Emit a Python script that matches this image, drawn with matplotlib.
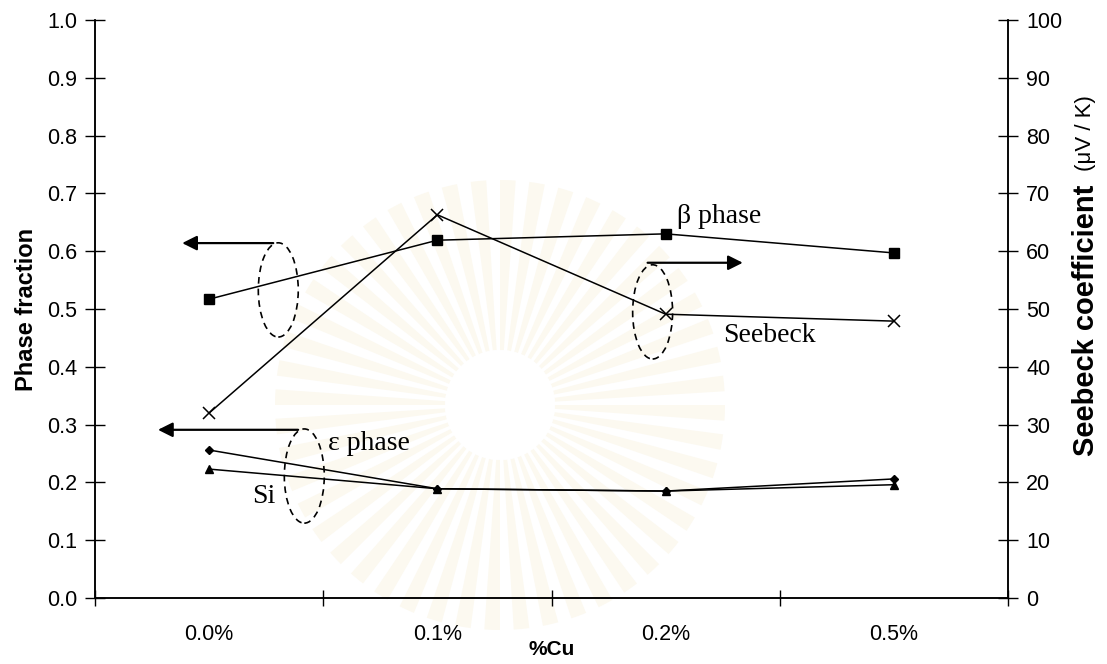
import numpy as np
import matplotlib
matplotlib.use("Agg")
import matplotlib.pyplot as plt
from matplotlib.patches import Ellipse, Wedge, Circle

# -----------------------------
# DATA
# -----------------------------
cu_labels = ["0.0%", "0.1%", "0.2%", "0.5%"]
beta_phase = [0.517, 0.619, 0.630, 0.597]
eps_phase = [0.256, 0.189, 0.185, 0.206]
si_phase = [0.223, 0.189, 0.185, 0.196]
seebeck = [32.0, 66.3, 49.1, 47.9]

plt.rcParams["font.family"] = ["Liberation Sans", "DejaVu Sans"]
SERIF = ["Liberation Serif", "DejaVu Serif"]

fig = plt.figure(figsize=(11.07, 6.64), dpi=100)

# faint sunburst watermark behind the plot
wm = fig.add_axes([0, 0, 1, 1], zorder=0)
wm.set_xlim(0, 1107)
wm.set_ylim(664, 0)
wm.axis("off")
cx, cy = 500, 405
for k in range(48):
    a = k * 7.5
    wm.add_patch(Wedge((cx, cy), 225, a, a + 4.0, width=170,
                       color="#fcf9f0", lw=0))
wm.add_patch(Circle((cx, cy), 55, color="white", lw=0))

ax = fig.add_axes([0.0858, 0.0994, 0.8248, 0.8705], zorder=1)
ax.patch.set_alpha(0)
ax2 = ax.twinx()

x = np.arange(len(cu_labels))

ax.plot(x, beta_phase, color="black", lw=1.1, marker="s", ms=7, zorder=3)
ax.plot(x, eps_phase, color="black", lw=1.1, marker="D", ms=4.5, zorder=3)
ax.plot(x, si_phase, color="black", lw=1.1, marker="^", ms=6, zorder=3)
ax2.plot(x, seebeck, color="black", lw=1.1, marker="x", ms=9, mew=1.1, zorder=3)

# axes ranges and ticks
ax.set_xlim(-0.5, len(cu_labels) - 0.5)
ax.set_ylim(0, 1.0)
ax2.set_ylim(0, 100)
ax.set_yticks(np.arange(0, 1.01, 0.1))
ax.set_yticklabels([f"{v:.1f}" for v in np.arange(0, 1.01, 0.1)])
ax2.set_yticks(np.arange(0, 101, 10))

ax.set_xticks(np.arange(-0.5, len(cu_labels), 1.0))
ax.set_xticklabels([])
ax.set_xticks(x, minor=True)
ax.set_xticklabels(cu_labels, minor=True)
ax.tick_params(axis="x", which="minor", length=0, pad=19, labelsize=15.5)
ax.tick_params(axis="x", which="major", direction="inout", length=12, width=1)
ax.tick_params(axis="y", direction="inout", length=14, width=1, labelsize=15.5, pad=6)
ax2.tick_params(axis="y", direction="inout", length=14, width=1, labelsize=15.5, pad=6)

for a in (ax, ax2):
    a.spines["top"].set_visible(False)
    for s in a.spines.values():
        s.set_linewidth(1.1)

ax.set_ylabel("Phase fraction", fontsize=17, fontweight="bold", labelpad=6)
ax.set_xlabel("%Cu", fontsize=15, fontweight="bold", labelpad=-4)

# right axis label: bold name + plain units
fig.text(0.981, 0.518, "Seebeck coefficient", rotation=90, fontsize=21,
         fontweight="bold", ha="center", va="center")
fig.text(0.981, 0.800, "(\u03bcV / K)", rotation=90, fontsize=16,
         ha="center", va="center")

# series annotations
ax.text(2.05, 0.66, "\u03b2 phase", family=SERIF, fontsize=20, va="center")
ax.text(2.25, 0.455, "Seebeck", family=SERIF, fontsize=20, va="center")
ax.text(0.52, 0.268, "\u03b5 phase", family=SERIF, fontsize=20, va="center")
ax.text(0.19, 0.175, "Si", family=SERIF, fontsize=20, va="center")

# dashed ellipses marking which axis each group belongs to
for (ex, ey) in [(0.303, 0.533), (0.417, 0.211), (1.943, 0.495)]:
    ax.add_patch(Ellipse((ex, ey), 0.175, 0.163, fill=False, ls=(0, (4, 3)),
                         lw=1.2, color="black", zorder=4))

arrow = dict(arrowstyle="-|>", mutation_scale=22, lw=1.6, color="black",
             shrinkA=0, shrinkB=0)
ax.annotate("", xy=(-0.118, 0.614), xytext=(0.281, 0.614), arrowprops=arrow)
ax.annotate("", xy=(-0.224, 0.291), xytext=(0.39, 0.291), arrowprops=arrow)
ax.annotate("", xy=(2.338, 0.580), xytext=(1.921, 0.580), arrowprops=arrow)

fig.savefig("out.png", dpi=100)
